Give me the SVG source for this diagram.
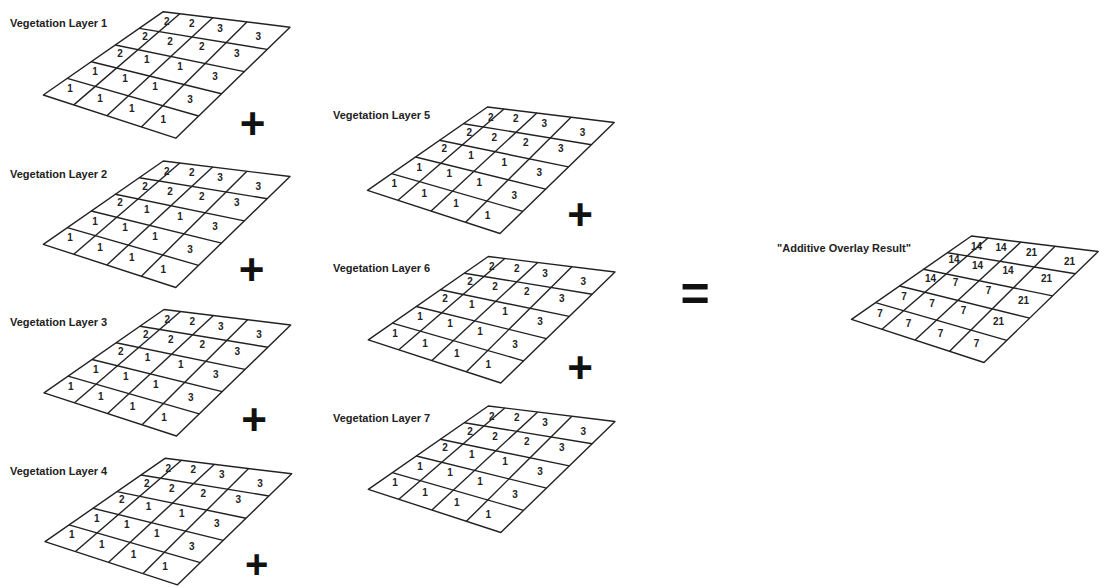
<svg xmlns="http://www.w3.org/2000/svg" xmlns:xlink="http://www.w3.org/1999/xlink" width="1100" height="587" viewBox="0 0 1100 587">
<style>
.lbl{font-family:"Liberation Sans",Arial,sans-serif;font-weight:bold;font-size:11px;fill:#222}
.num{font-family:"Liberation Sans",Arial,sans-serif;font-weight:bold;font-size:10px;fill:#222;text-anchor:middle}
.gl{fill:none;stroke:#222;stroke-width:1.4;stroke-linejoin:round}
.op{font-family:"Liberation Sans",Arial,sans-serif;font-weight:bold;fill:#111;text-anchor:middle}
</style>
<defs>
<g id="lines" class="gl">
<polygon points="0,0 126.7,15.5 12.5,126.5 -120,83.3"/>
<line x1="-24" y1="16.7" x2="103.9" y2="37.7"/>
<line x1="-48" y1="33.3" x2="81" y2="59.9"/>
<line x1="-72" y1="50" x2="58.2" y2="82.1"/>
<line x1="-96" y1="66.6" x2="35.3" y2="104.3"/>
<line x1="16.5" y1="2" x2="-89.5" y2="93.2"/>
<line x1="49.4" y1="6" x2="-56.4" y2="104"/>
<line x1="83.6" y1="10.2" x2="-21.9" y2="115.3"/>
</g>
<g id="vals" class="num">
<text x="3.4" y="13.5">2</text><text x="28.4" y="15.1">2</text><text x="56.7" y="20.1">3</text><text x="95" y="28.5">3</text>
<text x="-18.3" y="28.5">2</text><text x="6.7" y="33.5">2</text><text x="38.4" y="38.5">2</text><text x="73.4" y="45.1">3</text>
<text x="-43.3" y="45.1">2</text><text x="-16.6" y="51.8">1</text><text x="16.7" y="58.5">1</text><text x="51.7" y="68.5">3</text>
<text x="-68.3" y="63.5">1</text><text x="-38.3" y="70.1">1</text><text x="-8.3" y="78.5">1</text><text x="26.7" y="91.8">3</text>
<text x="-93.3" y="80.1">1</text><text x="-63.3" y="90.1">1</text><text x="-31.6" y="100.1">1</text><text x="0" y="111.8">1</text>
</g>
</defs>

<g id="layer1">
<text class="lbl" x="10" y="27">Vegetation Layer 1</text>
<g transform="translate(163.3,11.7)"><use href="#lines"/><use href="#vals"/></g>
</g>
<g id="layer2">
<text class="lbl" x="10" y="177.5">Vegetation Layer 2</text>
<g transform="translate(163.3,161)"><use href="#lines"/><use href="#vals"/></g>
</g>
<g id="layer3">
<text class="lbl" x="10" y="326">Vegetation Layer 3</text>
<g transform="translate(164,309.5)"><use href="#lines"/><use href="#vals"/></g>
</g>
<g id="layer4">
<text class="lbl" x="10" y="475">Vegetation Layer 4</text>
<g transform="translate(165,458.3)"><use href="#lines"/><use href="#vals"/></g>
</g>
<g id="layer5">
<text class="lbl" x="333" y="119">Vegetation Layer 5</text>
<g transform="translate(487.5,107)"><use href="#lines"/><use href="#vals"/></g>
</g>
<g id="layer6">
<text class="lbl" x="333" y="272">Vegetation Layer 6</text>
<g transform="translate(488.3,256.5)"><use href="#lines"/><use href="#vals"/></g>
</g>
<g id="layer7">
<text class="lbl" x="333" y="422">Vegetation Layer 7</text>
<g transform="translate(488.3,406)"><use href="#lines"/><use href="#vals"/></g>
</g>
<g id="result">
<text class="lbl" x="777" y="251.5">"Additive Overlay Result"</text>
<g transform="translate(971.5,236)"><use href="#lines"/>
<g class="num">
<text x="5" y="13.5">14</text><text x="29.5" y="15.1">14</text><text x="60" y="20.1">21</text><text x="98" y="28.5">21</text>
<text x="-17.5" y="27">14</text><text x="6" y="32.5">14</text><text x="36.5" y="38">14</text><text x="75" y="45.5">21</text>
<text x="-41" y="45.5">14</text><text x="-16" y="49.5">7</text><text x="17" y="57.5">7</text><text x="52" y="67.5">21</text>
<text x="-67.5" y="64">7</text><text x="-39.5" y="70.5">7</text><text x="-8" y="77.5">7</text><text x="27" y="89">21</text>
<text x="-91.5" y="80.5">7</text><text x="-63" y="90.5">7</text><text x="-31" y="100.5">7</text><text x="5" y="111">7</text>
</g></g>
</g>

<g id="operators">
<text class="op" x="252.5" y="139" font-size="44">+</text>
<text class="op" x="251.7" y="285" font-size="44">+</text>
<text class="op" x="254" y="435" font-size="44">+</text>
<text class="op" x="256.7" y="577.5" font-size="40">+</text>
<text class="op" x="580" y="230" font-size="44">+</text>
<text class="op" x="580" y="383" font-size="44">+</text>
<text class="op" x="695" y="311" font-size="50" font-weight="normal">=</text>
</g>
</svg>
